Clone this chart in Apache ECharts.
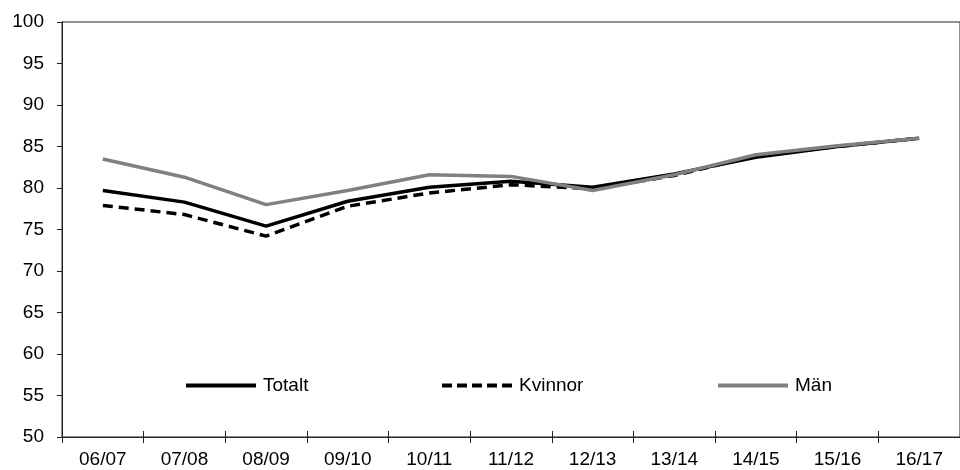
<!DOCTYPE html>
<html>
<head>
<meta charset="utf-8">
<script src="https://cdn.jsdelivr.net/npm/echarts@6/dist/echarts.min.js"></script>
<style>
  html, body { margin: 0; padding: 0; background: #fff; }
  #chart { width: 960px; height: 470px; }
</style>
</head>
<body>
<div id="chart"></div>
<script>
var myChart = echarts.init(document.getElementById('chart'));

var years = ['06/07', '07/08', '08/09', '09/10', '10/11', '11/12', '12/13', '13/14', '14/15', '15/16', '16/17'];
var totalt = [79.7, 78.3, 75.4, 78.4, 80.1, 80.8, 80.1, 81.7, 83.7, 85.0, 86.0];
var kvinnor = [77.9, 76.8, 74.2, 77.8, 79.4, 80.4, 79.9, 81.5, 83.9, 85.0, 86.0];
var man = [83.5, 81.3, 78.0, 79.7, 81.6, 81.4, 79.7, 81.6, 84.0, 85.1, 86.0];

var font = 'Liberation Sans, Arial, sans-serif';

// legend icons: solid bar and dashed bar, 70 x 4
var solidIcon = 'path://M0,0h70v4h-70z';
var dashIcon = 'path://M0,0h10v4h-10z M15,0h10v4h-10z M30,0h10v4h-10z M45,0h10v4h-10z M60,0h10v4h-10z';

function legendAt(left, name, icon) {
    return {
        left: left,
        top: 371,
        itemWidth: 70,
        itemHeight: 4,
        textStyle: { fontFamily: font, fontSize: 19, color: '#000', padding: [0, 0, 0, 2] },
        data: [{ name: name, icon: icon }]
    };
}

var option = {
    animation: false,
    backgroundColor: '#fff',
    grid: {
        left: 62,
        right: -11,
        top: 22,
        bottom: 33,
        show: true,
        borderColor: '#222',
        borderWidth: 1
    },
    legend: [
        legendAt(181, 'Totalt', solidIcon),
        legendAt(437, 'Kvinnor', dashIcon),
        legendAt(713, 'Män', solidIcon)
    ],
    xAxis: [{
        type: 'category',
        data: years,
        boundaryGap: true,
        axisLine: { lineStyle: { color: '#222', width: 1 } },
        axisTick: { show: true, length: 6, lineStyle: { color: '#222' } },
        axisLabel: { fontFamily: font, fontSize: 19, color: '#000', margin: 13, interval: 0 },
        splitLine: { show: false }
    }, {
        type: 'category',
        data: years,
        position: 'bottom',
        boundaryGap: true,
        axisLine: { show: false },
        axisTick: { show: true, inside: true, length: 6, lineStyle: { color: '#222' } },
        axisLabel: { show: false },
        splitLine: { show: false }
    }],
    yAxis: {
        type: 'value',
        min: 50,
        max: 100,
        interval: 5,
        axisLine: { show: true, lineStyle: { color: '#222', width: 1 } },
        axisTick: { show: true, length: 5, lineStyle: { color: '#222' } },
        axisLabel: { fontFamily: font, fontSize: 19, color: '#000', margin: 18 },
        splitLine: { show: false }
    },
    series: [
        {
            name: 'Totalt',
            type: 'line',
            data: totalt,
            symbol: 'none',
            color: '#000',
            lineStyle: { color: '#000', width: 3.5 }
        },
        {
            name: 'Kvinnor',
            type: 'line',
            data: kvinnor,
            symbol: 'none',
            color: '#000',
            lineStyle: { color: '#000', width: 3.5, type: [10, 6] }
        },
        {
            name: 'Män',
            type: 'line',
            data: man,
            symbol: 'none',
            color: '#808080',
            lineStyle: { color: '#808080', width: 3.5 }
        }
    ]
};

myChart.setOption(option);
</script>
</body>
</html>
